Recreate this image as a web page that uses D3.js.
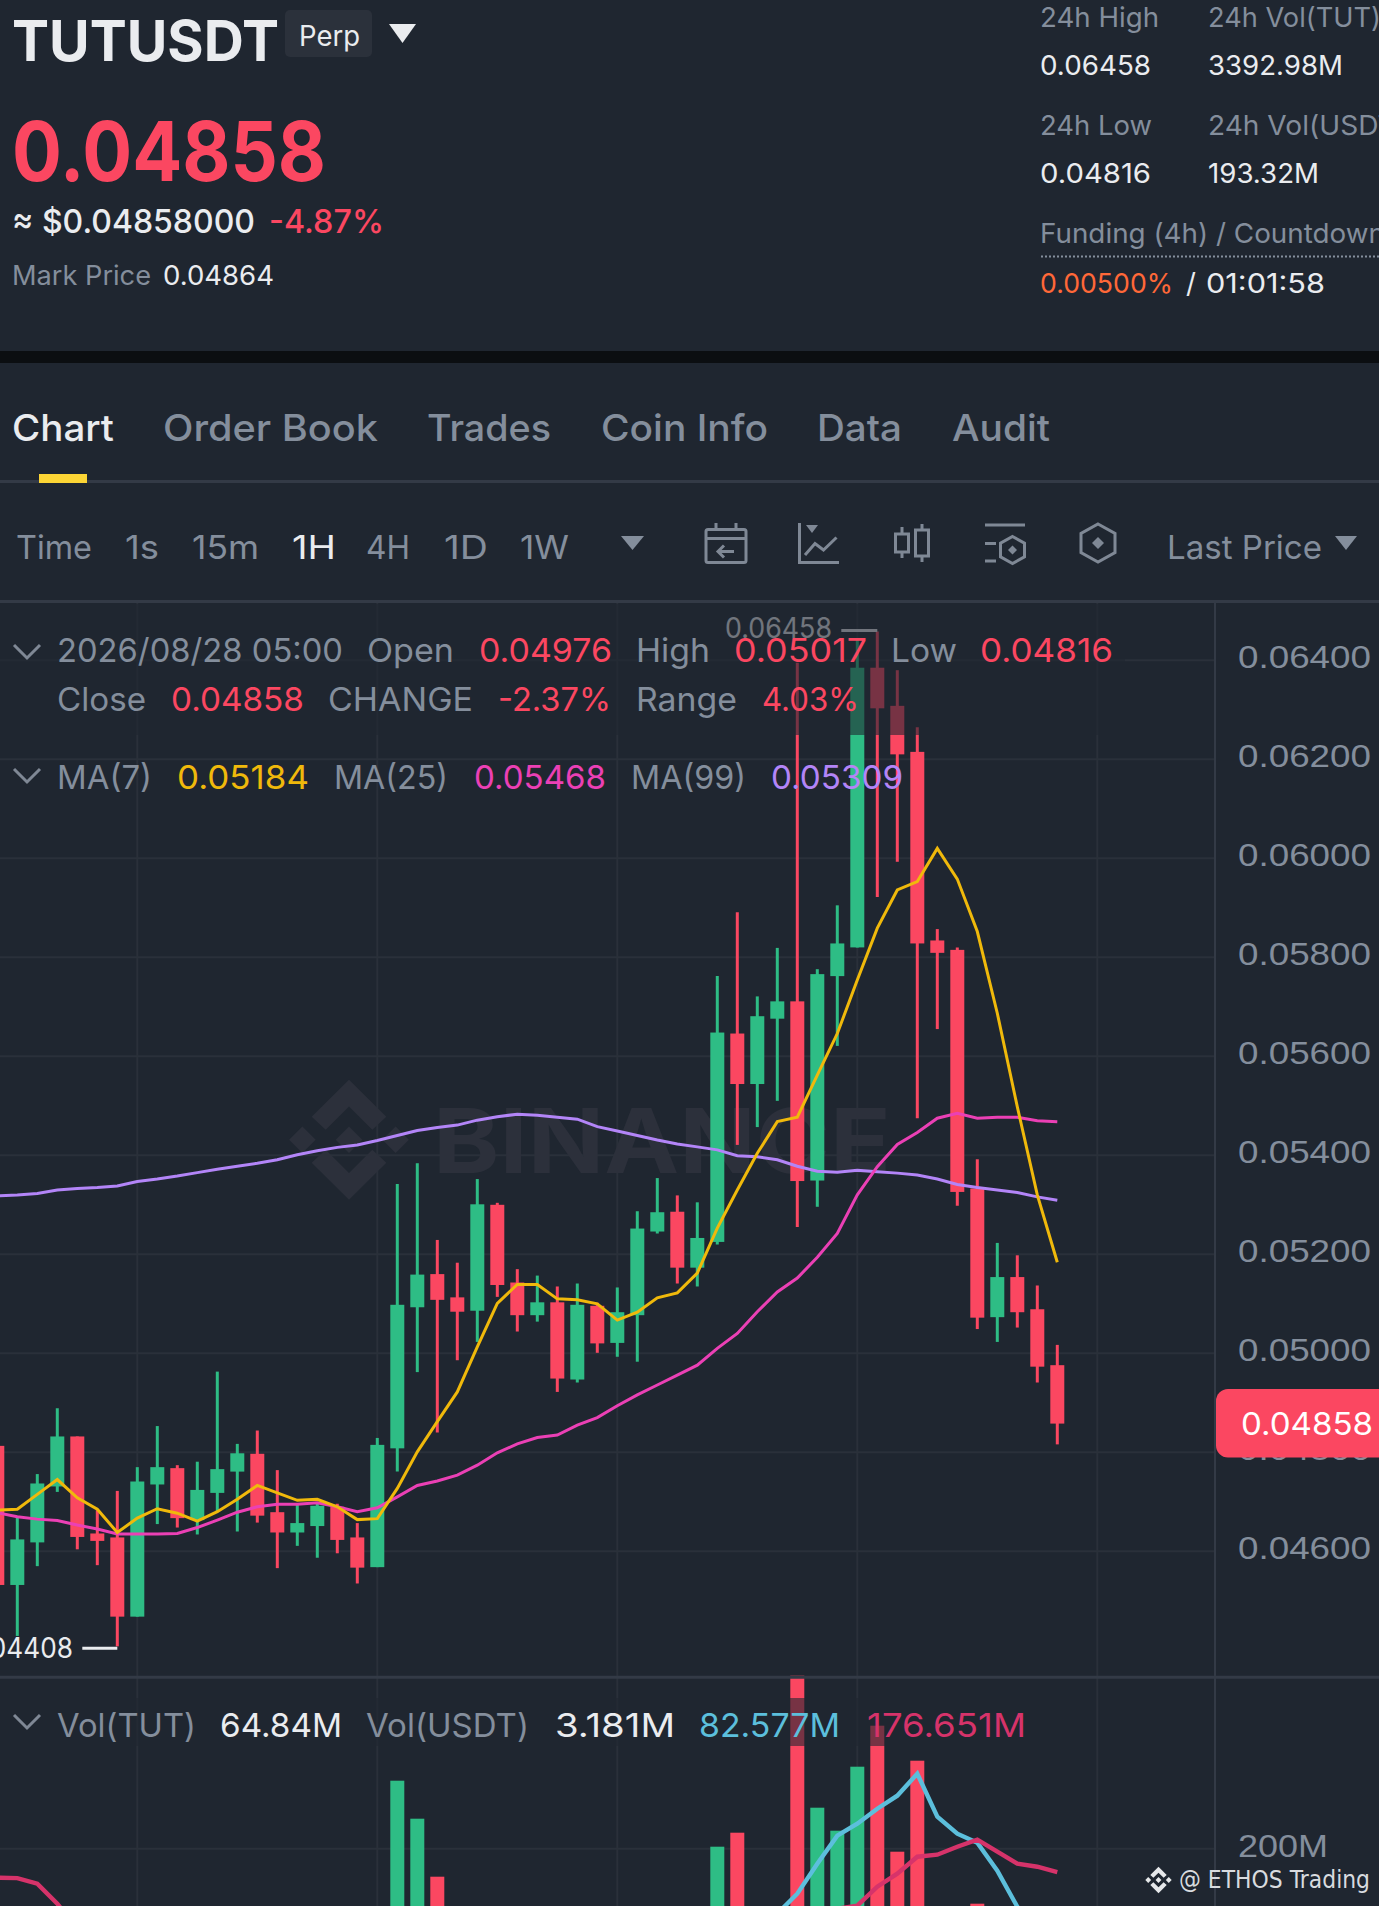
<!DOCTYPE html>
<html>
<head>
    <title>TUTUSDT Perp</title>
    <script src="https://d3js.org/d3.v7.min.js"></script>
    <style>
        body {margin: 0; background: #1f2630;}
        svg {display: block; font-family: Inter, "Noto Sans", sans-serif;}
    </style>
</head>
<body>
<script>
    // candles, first one is cut by the left edge, last one is the open hour
    const firstCandle = -1;
    const opens = [.04813,.04532,.04618,.04731,.04832,.04636,.04628,.04468,.04735,.04768,.04663,.04718,.04761,.04797,.04679,.04638,.04651,.04690,.04628,.04568,.04808,.05093,.05160,.05113,.05086,.05300,.05143,.05077,.05103,.04947,.05096,.05021,.05077,.05246,.05286,.05173,.05225,.05646,.05544,.05676,.05711,.05349,.05762,.05820,.06385,.06308,.06215,.05834,.05815,.05333,.05073,.05154,.05089,.04976];
    const highs = [.04825,.04670,.04756,.04889,.04832,.04683,.04722,.04770,.04853,.04774,.04781,.04963,.04817,.04844,.04764,.04694,.04696,.04696,.04657,.04829,.05342,.05384,.05229,.05183,.05352,.05304,.05170,.05157,.05135,.05141,.05102,.05133,.05287,.05354,.05319,.05305,.05762,.05891,.05721,.05819,.06395,.05776,.05905,.06441,.06458,.06380,.06265,.05857,.05820,.05392,.05223,.05198,.05137,.05017];
    const lows = [.04512,.04429,.04570,.04720,.04604,.04572,.04408,.04468,.04655,.04648,.04634,.04680,.04640,.04658,.04566,.04611,.04587,.04596,.04535,.04568,.04761,.04962,.04840,.04986,.05023,.05114,.05044,.05064,.04922,.04941,.05001,.04993,.04983,.05242,.05141,.05135,.05220,.05421,.05457,.05510,.05255,.05296,.05621,.05820,.05922,.05993,.05475,.05655,.05298,.05049,.05023,.05052,.04941,.04816];
    const closes = [.04532,.04624,.04737,.04832,.04629,.04621,.04468,.04741,.04770,.04667,.04724,.04766,.04798,.04672,.04638,.04657,.04692,.04623,.04567,.04815,.05098,.05159,.05108,.05084,.05301,.05138,.05077,.05103,.04949,.05098,.05020,.05083,.05252,.05285,.05173,.05233,.05648,.05544,.05681,.05711,.05348,.05766,.05828,.06385,.06303,.06210,.05828,.05809,.05326,.05072,.05154,.05083,.04973,.04858];

    const ma7 = [.04683,.04685,.04715,.04745,.04708,.04685,.04638,.04667,.04686,.04677,.04661,.04680,.04705,.04733,.04718,.04703,.04705,.04690,.04664,.04666,.04727,.04801,.04862,.04922,.05013,.05101,.05139,.05139,.05110,.05108,.05100,.05067,.05083,.05112,.05122,.05162,.05253,.05330,.05404,.05468,.05477,.05562,.05646,.05754,.05859,.05936,.05953,.06020,.05958,.05852,.05687,.05498,.05320,.05184];
    const ma25 = [.04678,.04670,.04665,.04662,.04653,.04645,.04635,.04635,.04635,.04636,.04648,.04663,.04679,.04690,.04695,.04695,.04698,.04690,.04680,.04688,.04710,.04733,.04742,.04754,.04774,.04799,.04817,.04830,.04835,.04855,.04870,.04894,.04916,.04936,.04956,.04976,.05010,.05040,.05084,.05124,.05152,.05194,.05242,.05320,.05377,.05422,.05446,.05475,.05485,.05475,.05477,.05477,.05470,.05468];
    const ma99 = [.05318,.05320,.05323,.05330,.05333,.05335,.05338,.05347,.05352,.05358,.05365,.05372,.05378,.05384,.05391,.05401,.05409,.05416,.05421,.05430,.05440,.05450,.05456,.05461,.05471,.05478,.05483,.05481,.05477,.05473,.05458,.05449,.05440,.05431,.05423,.05417,.05411,.05399,.05397,.05391,.05378,.05368,.05366,.05370,.05367,.05364,.05360,.05352,.05341,.05335,.05330,.05325,.05316,.05309];

    // volumes in millions, the short bars fall below the screenshot so those are guesses
    const volumes = [70,60,55,75,50,40,85,95,45,40,35,60,35,45,40,30,35,30,45,125,268,230,172,90,75,70,40,85,60,65,45,50,110,45,50,80,202,216,125,130,373,241,218,282,323,197,288,110,120,145,60,55,50,64.84];
    const volMaFast = [66,65,64,62,58,55,57,62,58,60,54,52,48,46,44,43,42,40,38,55,85,105,118,125,130,120,105,80,62,58,55,52,60,62,65,70,95,105,120,135,155,185,213,225,240,253,275,232,215,206,178,142,110,82.577];
    const volMaSlow = [171,170.6,165,145,120,100,90,84,80,78,76,74,72,71,70,69,68,68,70,75,84,90,92,90,86,84,82,80,78,76,74,74,76,78,82,88,96,104,112,120,128,136,140,143,162,175,192,194,202,209,197,185,182,176.651];

    const priceTicks = [0.064, 0.062, 0.06, 0.058, 0.056, 0.054, 0.052, 0.05, 0.048, 0.046];
    const volTicks = [200];
    const lastPrice = 0.04858;

    const bg = "#1f2630", grid = "#2a303a", line = "#333a46";
    const up = "#2ebd85", down = "#fb4761";
    const gray = "#848e9c", white = "#eaecef";

    const width = 1379, height = 1906;
    const axisX = 1215;

    const svg = d3.select("body").append("svg")
        .attr("width", width)
        .attr("height", height);
    svg.append("rect").attr("width", width).attr("height", height).attr("fill", bg);

    const xScale = d3.scaleLinear().domain([0, 52]).range([17.3, 1057.3]);
    const yPrice = d3.scaleLinear().domain([0.046, 0.064]).range([1551.3, 660.3]);
    const yVol = d3.scaleLinear().domain([0, 200]).range([2048.7, 1848.7]);

    // w is the width, the original font runs wider than Inter
    function label(x, y, str, color, size, weight, w) {
        const t = svg.append("text")
            .attr("x", x).attr("y", y)
            .attr("fill", color)
            .attr("font-size", size)
            .attr("font-weight", weight || 400)
            .text(str);
        if (w) t.attr("textLength", w).attr("lengthAdjust", "spacingAndGlyphs");
        return t;
    }

    function tri(x0, x1, y0, y1, color) {
        svg.append("path")
            .attr("d", `M${x0},${y0}L${x1},${y0}L${(x0 + x1) / 2},${y1}Z`)
            .attr("fill", color);
    }

    // ---- gridlines
    const vGrid = [6, 18, 30, 42, 54];
    svg.append("g").selectAll("line").data(vGrid).join("line")
        .attr("x1", d => xScale(d)).attr("x2", d => xScale(d))
        .attr("y1", 602).attr("y2", height)
        .attr("stroke", grid).attr("stroke-width", 2);

    const priceAxis = d3.axisRight(yPrice)
        .tickValues(priceTicks)
        .tickFormat(d3.format(".5f"))
        .tickSize(0)
        .tickPadding(23);
    const pg = svg.append("g").attr("transform", `translate(${axisX},0)`).call(priceAxis);
    pg.select(".domain").remove();
    pg.selectAll("text").attr("fill", gray).attr("font-size", 30.5).attr("font-family", "inherit").attr("dy", "0.24em")
        .attr("textLength", 133).attr("lengthAdjust", "spacingAndGlyphs");
    svg.append("g").selectAll("line").data(priceTicks).join("line")
        .attr("x1", 0).attr("x2", axisX)
        .attr("y1", d => yPrice(d)).attr("y2", d => yPrice(d))
        .attr("stroke", grid).attr("stroke-width", 2);

    const volAxis = d3.axisRight(yVol)
        .tickValues(volTicks)
        .tickFormat(d => d + "M")
        .tickSize(0)
        .tickPadding(23);
    const vg = svg.append("g").attr("transform", `translate(${axisX},0)`).call(volAxis);
    vg.select(".domain").remove();
    vg.selectAll("text").attr("fill", gray).attr("font-size", 30.5).attr("font-family", "inherit").attr("dy", "0.24em")
        .attr("textLength", 90).attr("lengthAdjust", "spacingAndGlyphs");
    svg.append("g").selectAll("line").data(volTicks).join("line")
        .attr("x1", 0).attr("x2", axisX)
        .attr("y1", d => yVol(d)).attr("y2", d => yVol(d))
        .attr("stroke", grid).attr("stroke-width", 2);

    // ---- binance watermark, logo is five pieces around a centre
    function logo(cx, cy, k, color) {
        const g = svg.append("g").attr("transform", `translate(${cx},${cy}) scale(${k})`).attr("fill", color);
        const chev = "M0,-60L37.3,-23L23.3,-10L0,-33.3L-23.3,-10L-37.3,-23Z";
        g.append("path").attr("d", chev);
        g.append("path").attr("d", chev).attr("transform", "scale(1,-1)");
        [[0, 0], [-46.6, 0], [46.6, 0]].forEach(c => {
            g.append("path").attr("d", `M${c[0]},-13.3L${c[0] + 13.3},0L${c[0]},13.3L${c[0] - 13.3},0Z`);
        });
    }
    logo(349, 1139.7, 1, "#2c303b");
    label(433, 1172.5, "BINANCE", "#2c303b", 90, 700, 458);

    // ---- candles
    const idx = d3.range(opens.length);
    const xAt = i => xScale(i + firstCandle);
    const candleColor = i => closes[i] >= opens[i] ? up : down;

    svg.append("g").selectAll("line").data(idx).join("line")
        .attr("x1", xAt).attr("x2", xAt)
        .attr("y1", i => yPrice(highs[i])).attr("y2", i => yPrice(lows[i]))
        .attr("stroke", candleColor).attr("stroke-width", 3);
    svg.append("g").selectAll("rect").data(idx).join("rect")
        .attr("x", i => xAt(i) - 7)
        .attr("width", 14)
        .attr("y", i => yPrice(Math.max(opens[i], closes[i])))
        .attr("height", i => Math.abs(yPrice(opens[i]) - yPrice(closes[i])))
        .attr("fill", candleColor);

    function maLine(values, scale, color, w) {
        const gen = d3.line().x((d, i) => xAt(i)).y(d => scale(d));
        svg.append("path")
            .attr("d", gen(values))
            .attr("fill", "none")
            .attr("stroke", color)
            .attr("stroke-width", w)
            .attr("stroke-linejoin", "miter");
    }
    maLine(ma99, yPrice, "#b385f8", 3);
    maLine(ma25, yPrice, "#eb40b5", 3);
    maLine(ma7, yPrice, "#f0b90b", 3);

    // ---- volume pane
    svg.append("g").selectAll("rect").data(idx).join("rect")
        .attr("x", i => xAt(i) - 7)
        .attr("width", 14)
        .attr("y", i => yVol(volumes[i]))
        .attr("height", i => yVol(0) - yVol(volumes[i]))
        .attr("fill", candleColor);
    maLine(volMaFast, yVol, "#5cbfdc", 4.4);
    maLine(volMaSlow, yVol, "#d6336a", 4.4);

    // high and low markers on the chart
    const hiIdx = highs.indexOf(d3.max(highs));
    const loIdx = lows.indexOf(d3.min(lows));
    svg.append("line").attr("x1", xAt(hiIdx) - 36).attr("x2", xAt(hiIdx))
        .attr("y1", yPrice(highs[hiIdx]) - 1).attr("y2", yPrice(highs[hiIdx]) - 1)
        .attr("stroke", white).attr("stroke-width", 3);
    label(725, 638, d3.format(".5f")(highs[hiIdx]), white, 28, 400, 107);
    svg.append("line").attr("x1", xAt(loIdx) - 35).attr("x2", xAt(loIdx))
        .attr("y1", yPrice(lows[loIdx]) + 2).attr("y2", yPrice(lows[loIdx]) + 2)
        .attr("stroke", white).attr("stroke-width", 3);
    label(-33, 1658, d3.format(".5f")(lows[loIdx]), white, 28, 400, 106);

    // translucent strip under the legend rows
    svg.append("rect").attr("x", 0).attr("y", 604).attr("width", 1125).attr("height", 131).attr("fill", bg).attr("fill-opacity", 0.6);
    svg.append("rect").attr("x", 0).attr("y", 1698).attr("width", 1040).attr("height", 48).attr("fill", bg).attr("fill-opacity", 0.6);

    // ---- separators and axis line
    svg.append("line").attr("x1", axisX).attr("x2", axisX).attr("y1", 602).attr("y2", height).attr("stroke", line).attr("stroke-width", 2);
    svg.append("line").attr("x1", 0).attr("x2", width).attr("y1", 1677.3).attr("y2", 1677.3).attr("stroke", line).attr("stroke-width", 3);

    // ---- last price tag
    svg.append("rect").attr("x", 1216).attr("y", yPrice(lastPrice) - 34.5).attr("width", 190).attr("height", 68.5).attr("rx", 12).attr("fill", down);
    label(1241, yPrice(lastPrice) + 11, d3.format(".5f")(lastPrice), "#ffffff", 30.5, 400, 132);

    // ---- header
    label(12, 61, "TUTUSDT", white, 56, 700, 267);
    svg.append("rect").attr("x", 285).attr("y", 10).attr("width", 87).attr("height", 47).attr("rx", 5).attr("fill", "#2b313b");
    label(299, 46, "Perp", white, 28, 400, 61);
    tri(389, 416, 24, 43, white);

    label(12, 181, "0.04858", down, 82, 700, 314);
    label(12, 233, "≈ $0.04858000", white, 33, 500, 243);
    label(269, 233, "-4.87%", down, 33, 500, 115);
    label(12, 285, "Mark Price", gray, 27, 400, 139);
    label(163, 285, "0.04864", white, 27, 400, 111);

    const headFs = 27.5;
    label(1040, 27, "24h High", gray, headFs, 400, 119);
    label(1208, 27, "24h Vol(TUT)", gray, headFs, 400, 173);
    label(1040, 75, "0.06458", white, headFs, 400, 111);
    label(1208, 75, "3392.98M", white, headFs, 400, 135);
    label(1040, 135, "24h Low", gray, headFs, 400, 112);
    label(1208, 135, "24h Vol(USDT)", gray, headFs, 400, 198);
    label(1040, 183, "0.04816", white, headFs, 400, 111);
    label(1208, 183, "193.32M", white, headFs, 400, 111);
    label(1040, 243, "Funding (4h) / Countdown", gray, headFs, 400, 345);
    svg.append("line").attr("x1", 1041).attr("x2", width).attr("y1", 256.5).attr("y2", 256.5)
        .attr("stroke", gray).attr("stroke-width", 2).attr("stroke-dasharray", "2 2");
    label(1040, 293, "0.00500%", "#ff6838", headFs, 400, 133);
    label(1186, 293, "/", white, headFs);
    label(1206, 293, "01:01:58", white, headFs, 400, 119);

    svg.append("rect").attr("x", 0).attr("y", 351).attr("width", width).attr("height", 12).attr("fill", "#0b0e11");

    // ---- tabs
    const tabNames = ["Chart", "Order Book", "Trades", "Coin Info", "Data", "Audit"];
    const tabX = [12, 163, 427, 601, 817, 952];
    const tabW = [102, 215, 124, 167, 85, 98];
    tabNames.forEach((t, i) => label(tabX[i], 441, t, i == 0 ? white : gray, 37, 500, tabW[i]));
    svg.append("rect").attr("x", 0).attr("y", 480).attr("width", width).attr("height", 3).attr("fill", line);
    svg.append("rect").attr("x", 39).attr("y", 474).attr("width", 48).attr("height", 9).attr("fill", "#fcd535");

    // ---- interval row
    const intervals = ["Time", "1s", "15m", "1H", "4H", "1D", "1W"];
    const intervalX = [16, 125, 192, 292, 366, 444, 520];
    const intervalW = [76, 34, 67, 44, 44, 44, 49];
    intervals.forEach((t, i) => label(intervalX[i], 559, t, t == "1H" ? white : gray, 33, 400, intervalW[i]));
    tri(621, 644, 536, 550, gray);
    label(1167, 559, "Last Price", gray, 33, 400, 155);
    tri(1335, 1357, 536, 550, gray);
    svg.append("rect").attr("x", 0).attr("y", 600).attr("width", width).attr("height", 3).attr("fill", line);

    // toolbar icons
    const icons = svg.append("g").attr("fill", "none").attr("stroke", "#7f8895").attr("stroke-width", 3);
    icons.append("rect").attr("x", 706).attr("y", 529.5).attr("width", 40).attr("height", 33).attr("rx", 2);
    icons.append("path").attr("d", "M706,538.5H746M716,523V529M736,523V529M734,551.5H718M724,545.5L718,551.5L724,557.5");
    icons.append("path").attr("d", "M799.5,523V562.5H839M805,555L815,543.5L823.5,550L836.5,537.5");
    icons.append("path").attr("d", "M806,525H818L812,533Z").attr("fill", "#7f8895").attr("stroke", "none");
    icons.append("rect").attr("x", 895.5).attr("y", 534).attr("width", 13).attr("height", 18);
    icons.append("rect").attr("x", 915.5).attr("y", 530).attr("width", 13).attr("height", 26);
    icons.append("path").attr("d", "M902,527V534M902,552V558M922,524V530M922,556V562");
    icons.append("path").attr("d", "M985,525H1025M985,543.5H996M985,561H996");
    const hex = (cx, cy, w, h) => `M${cx},${cy - h}L${cx + w},${cy - h / 2}V${cy + h / 2}L${cx},${cy + h}L${cx - w},${cy + h / 2}V${cy - h / 2}Z`;
    const dia = (cx, cy, r) => `M${cx},${cy - r}L${cx + r},${cy}L${cx},${cy + r}L${cx - r},${cy}Z`;
    icons.append("path").attr("d", hex(1012.5, 550, 12, 13.5));
    icons.append("path").attr("d", dia(1012.5, 550, 4.5)).attr("fill", "#7f8895").attr("stroke", "none");
    icons.append("path").attr("d", hex(1098, 543, 17, 19));
    icons.append("path").attr("d", dia(1098, 543, 6)).attr("fill", "#7f8895").attr("stroke", "none");

    // ---- legend rows
    function chevron(y) {
        svg.append("path")
            .attr("d", `M14,${y}L27,${y + 13}L40,${y}`)
            .attr("fill", "none").attr("stroke", "#7f8895").attr("stroke-width", 3);
    }
    chevron(645);
    chevron(769);
    chevron(1715);

    const fs = 33;
    label(57, 662, "2026/08/28 05:00", gray, fs, 400, 286);
    label(367, 662, "Open", gray, fs, 400, 87);
    label(479, 662, "0.04976", down, fs, 400, 133);
    label(636, 662, "High", gray, fs, 400, 74);
    label(734, 662, "0.05017", down, fs, 400, 133);
    label(891, 662, "Low", gray, fs, 400, 66);
    label(980, 662, "0.04816", down, fs, 400, 133);

    label(57, 711, "Close", gray, fs, 400, 89);
    label(171, 711, "0.04858", down, fs, 400, 133);
    label(328, 711, "CHANGE", gray, fs, 400, 145);
    label(498, 711, "-2.37%", down, fs, 400, 113);
    label(636, 711, "Range", gray, fs, 400, 101);
    label(762, 711, "4.03%", down, fs, 400, 97);

    label(57, 789, "MA(7)", gray, fs, 400, 95);
    label(177, 789, "0.05184", "#f0b90b", fs, 400, 132);
    label(334, 789, "MA(25)", gray, fs, 400, 114);
    label(474, 789, "0.05468", "#eb40b5", fs, 400, 132);
    label(631, 789, "MA(99)", gray, fs, 400, 115);
    label(771, 789, "0.05309", "#b385f8", fs, 400, 132);

    label(57, 1737, "Vol(TUT)", gray, fs, 400, 139);
    label(220, 1737, "64.84M", white, fs, 400, 122);
    label(366, 1737, "Vol(USDT)", gray, fs, 400, 163);
    label(555, 1737, "3.181M", white, fs, 400, 120);
    label(699, 1737, "82.577M", "#5cbfdc", fs, 400, 141);
    label(867, 1737, "176.651M", "#d6336a", fs, 400, 159);

    // ---- credit stamp
    logo(1158.5, 1880, 0.22, "#e6e8ea");
    label(1179, 1888, "@ ETHOS Trading", "#d8dbdf", 24.5, 400, 191).attr("font-family", "DejaVu Sans");
</script>
</body>
</html>
